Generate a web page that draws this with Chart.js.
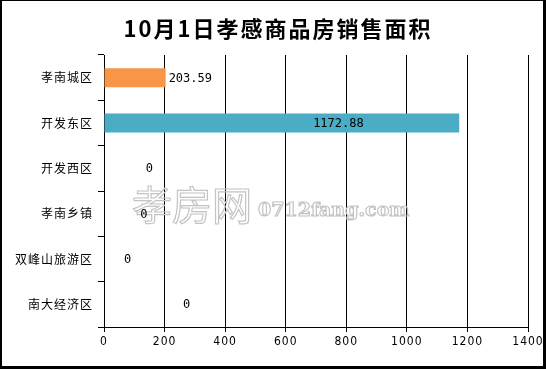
<!DOCTYPE html>
<html>
<head>
<meta charset="utf-8">
<script src="https://cdn.jsdelivr.net/npm/chart.js@4/dist/chart.umd.min.js"></script>
<style>
  html, body { margin: 0; padding: 0; background: #fff; }
  #wrap { position: relative; width: 546px; height: 369px; }
</style>
</head>
<body>
<div id="wrap"><canvas id="areaChart" width="546" height="369"></canvas></div>
<script>
// data
var titleText = '10月1日孝感商品房销售面积';
var districts = ['孝南城区', '开发东区', '开发西区', '孝南乡镇', '双峰山旅游区', '南大经济区'];
var areas = [203.59, 1172.88, 0, 0, 0, 0];
var barColors = ['#F79646', '#4BACC6', '#4F81BD', '#C0504D', '#9BBB59', '#8064A2'];
// where each value label sits, in axis units (the source put them oddly)
var labelAt = [285, 774, 150, 132, 78, 273];
var xTicks = [0, 200, 400, 600, 800, 1000, 1200, 1400];

var cjk = '"Noto Sans CJK SC", "Noto Sans", sans-serif';
var narrow = '"Liberation Sans Narrow", "DejaVu Sans Condensed", "Liberation Sans", sans-serif';

function spacing(ctx, v) {
	if ('letterSpacing' in ctx) ctx.letterSpacing = v;
}

var framePlugin = {
	id: 'frame',
	beforeDraw: function(chart) {
		// the source font runs wide, so space the axis text a bit
		spacing(chart.ctx, '1px');
	},
	afterDraw: function(chart) {
		var ctx = chart.ctx;
		var w = chart.width, h = chart.height;
		ctx.save();

		// title
		ctx.font = 'bold 22px ' + cjk;
		ctx.fillStyle = '#000';
		ctx.textAlign = 'center';
		ctx.textBaseline = 'middle';
		spacing(ctx, '2px');
		ctx.fillText(titleText, 278, 29);
		spacing(ctx, '0px');

		// watermark
		ctx.strokeStyle = '#c4c4c4';
		ctx.lineWidth = 1.2;
		ctx.textAlign = 'left';
		ctx.font = '40px ' + cjk;
		ctx.strokeText('孝房网', 132, 205);
		ctx.font = 'bold 19px "DejaVu Serif", "Liberation Serif", serif';
		ctx.strokeText('0712fang.com', 258, 211);

		// value labels
		var x = chart.scales.x;
		var meta = chart.getDatasetMeta(0);
		ctx.font = '12px "DejaVu Sans Mono", "Liberation Mono", monospace';
		ctx.fillStyle = '#000';
		ctx.textAlign = 'center';
		for (var i = 0; i < areas.length; i++) {
			var txt = areas[i] === 0 ? '0' : areas[i].toFixed(2);
			ctx.fillText(txt, x.getPixelForValue(labelAt[i]), meta.data[i].y + 1);
		}

		// outer frame, heavier on the right and bottom
		ctx.fillStyle = '#000';
		ctx.fillRect(0, 0, w, 1);
		ctx.fillRect(0, 0, 2, h);
		ctx.fillRect(w - 3, 0, 3, h);
		ctx.fillRect(0, h - 3, w, 3);
		ctx.restore();
	}
};

var ctx = document.getElementById('areaChart').getContext('2d');
var chart = new Chart(ctx, {
	type: 'bar',
	data: {
		labels: districts,
		datasets: [{
			data: areas,
			backgroundColor: barColors,
			borderWidth: 0,
			barPercentage: 0.42,
			categoryPercentage: 1
		}]
	},
	options: {
		indexAxis: 'y',
		responsive: false,
		animation: false,
		layout: { padding: { top: 55, right: 18, left: 0, bottom: 0 } },
		plugins: {
			legend: { display: false },
			tooltip: { enabled: false },
			title: { display: false }
		},
		scales: {
			x: {
				min: 0,
				max: 1400,
				afterBuildTicks: function(axis) {
					axis.ticks = xTicks.map(function(v) { return { value: v }; });
				},
				afterFit: function(axis) { axis.height = 42; },
				grid: { color: '#000', lineWidth: 1, tickLength: 5, drawOnChartArea: true },
				border: { display: true, color: '#000', width: 1 },
				ticks: {
					color: '#000',
					padding: 3,
					maxRotation: 0,
					font: { family: narrow, size: 12 },
					callback: function(v) { return String(v); }
				}
			},
			y: {
				afterFit: function(axis) { axis.width = 104; },
				grid: { color: '#000', lineWidth: 1, tickLength: 6, drawOnChartArea: false, offset: true },
				border: { display: true, color: '#000', width: 1 },
				ticks: {
					color: '#000',
					padding: 5,
					font: { family: cjk, size: 12 }
				}
			}
		}
	},
	plugins: [framePlugin]
});
</script>
</body>
</html>
